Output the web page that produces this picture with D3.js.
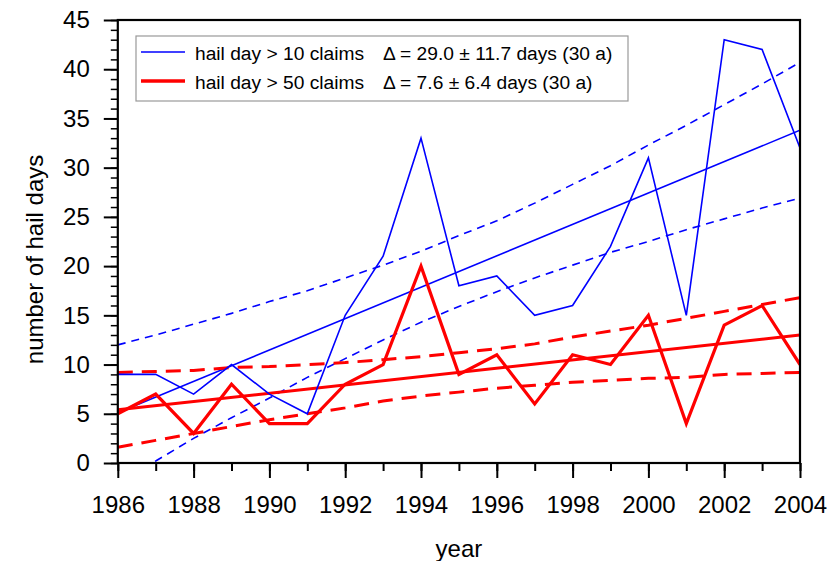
<!DOCTYPE html>
<html>
<head>
<meta charset="utf-8">
<script src="https://cdn.jsdelivr.net/npm/d3@7"></script>
<style>
  html, body { margin: 0; padding: 0; background: #fff; }
  svg { display: block; font-family: "Liberation Sans", Arial, sans-serif; }
</style>
</head>
<body>
<svg id="chart" width="838" height="561"></svg>
<script>
// ---- data ----
const years = [1986,1987,1988,1989,1990,1991,1992,1993,1994,1995,1996,1997,1998,1999,2000,2001,2002,2003,2004];
const claims10 = [9,9,7,10,7,5,15,21,33,18,19,15,16,22,31,15,43,42,32];
const claims50 = [5,7,3,8,4,4,8,10,20,9,11,6,11,10,15,4,14,16,10];
const trendYears = [1986, 2004];
const trend10 = [5.1, 33.8];
const trend50 = [5.4, 13.0];
const upper10 = [12.0,13.0,14.1,15.2,16.4,17.5,18.8,20.1,21.5,23.1,24.6,26.4,28.3,30.2,32.3,34.3,36.4,38.5,40.7];
const lower10 = [-1.8,0.2,2.5,4.6,6.6,8.7,10.6,12.5,14.3,15.9,17.4,18.8,20.1,21.4,22.5,23.7,24.8,25.9,26.9];
const upper50 = [9.2,9.3,9.4,9.7,9.8,10.0,10.2,10.5,10.8,11.2,11.6,12.1,12.8,13.4,14.0,14.7,15.4,16.1,16.8];
const lower50 = [1.6,2.3,3.0,3.7,4.4,5.0,5.6,6.3,6.8,7.2,7.6,7.9,8.2,8.4,8.6,8.7,9.0,9.1,9.2];
const xTickLabels = [1986,1988,1990,1992,1994,1996,1998,2000,2002,2004];
const yTickLabels = [0,5,10,15,20,25,30,35,40,45];
const legendLabels = ["hail day > 10 claims", "hail day > 50 claims"];
const legendDeltas = ["\u0394 = 29.0 \u00b1 11.7 days (30 a)", "\u0394 = 7.6 \u00b1 6.4 days (30 a)"];

// ---- layout ----
const svg = d3.select("#chart");
const L = 117.8, R = 800, T = 20, B = 463;
const x = d3.scaleLinear().domain([1986, 2004]).range([L, R]);
const y = d3.scaleLinear().domain([0, 45]).range([B, T]);
const BLUE = "#0000ff", RED = "#ff0000";

svg.append("defs").append("clipPath").attr("id", "plot")
  .append("rect").attr("x", L).attr("y", T).attr("width", R - L).attr("height", B - T);

const g = svg.append("g").attr("clip-path", "url(#plot)");
const line = d3.line().x(d => x(d[0])).y(d => y(d[1]));

function drawSeries(xs, vs, color, width, dash) {
  g.append("path")
    .datum(xs.map((yr, i) => [yr, vs[i]]))
    .attr("d", line)
    .attr("fill", "none")
    .attr("stroke", color)
    .attr("stroke-width", width)
    .attr("stroke-linejoin", "miter")
    .attr("stroke-dasharray", dash || null);
}

// blue bands & trend
drawSeries(years, upper10, BLUE, 1.6, "8,6");
drawSeries(years, lower10, BLUE, 1.6, "8,6");
drawSeries(trendYears, trend10, BLUE, 1.6);
// red bands & trend
drawSeries(years, upper50, RED, 3, "15,9");
drawSeries(years, lower50, RED, 3, "15,9");
drawSeries(trendYears, trend50, RED, 3);
// data
drawSeries(years, claims10, BLUE, 1.6);
drawSeries(years, claims50, RED, 3.2);

// ---- axes ----
const fontTick = 24;
const tickFont = "Liberation Sans, Arial, sans-serif";
// x axis minor ticks
svg.append("g").attr("transform", `translate(0,${B})`)
  .call(d3.axisBottom(x).tickValues(years).tickSize(8).tickFormat(""))
  .call(a => a.select(".domain").remove())
  .call(a => a.selectAll("line").attr("stroke", "#000").attr("stroke-width", 2));
// x axis major ticks
svg.append("g").attr("transform", `translate(0,${B})`)
  .call(d3.axisBottom(x).tickValues(xTickLabels).tickSize(15).tickPadding(18).tickFormat(d3.format("d")))
  .call(a => a.select(".domain").remove())
  .call(a => a.selectAll("line").attr("stroke", "#000").attr("stroke-width", 2))
  .call(a => a.selectAll("text").attr("font-size", fontTick).attr("fill", "#000").attr("font-family", tickFont));
// y axis minor ticks
svg.append("g").attr("transform", `translate(${L},0)`)
  .call(d3.axisLeft(y).tickValues(d3.range(0, 46, 1)).tickSize(7).tickFormat(""))
  .call(a => a.select(".domain").remove())
  .call(a => a.selectAll("line").attr("stroke", "#000").attr("stroke-width", 1.5));
// y axis major ticks
svg.append("g").attr("transform", `translate(${L},0)`)
  .call(d3.axisLeft(y).tickValues(yTickLabels).tickSize(14).tickPadding(14).tickFormat(d3.format("d")))
  .call(a => a.select(".domain").remove())
  .call(a => a.selectAll("line").attr("stroke", "#000").attr("stroke-width", 2))
  .call(a => a.selectAll("text").attr("font-size", fontTick).attr("fill", "#000").attr("font-family", tickFont));

// frame
svg.append("rect").attr("x", L).attr("y", T).attr("width", R - L).attr("height", B - T)
  .attr("fill", "none").attr("stroke", "#000").attr("stroke-width", 2.2);

// axis titles
svg.append("text").attr("x", (L + R) / 2).attr("y", 557)
  .attr("text-anchor", "middle").attr("font-size", 24).text("year");
svg.append("text").attr("transform", `translate(43,${(T + B) / 2 + 18}) rotate(-90)`)
  .attr("text-anchor", "middle").attr("font-size", 24).text("number of hail days");

// ---- legend ----
const lg = svg.append("g");
lg.append("rect").attr("x", 136).attr("y", 36).attr("width", 492).attr("height", 65)
  .attr("fill", "#fff").attr("stroke", "#999").attr("stroke-width", 1.2);
const rows = [
  { color: BLUE, w: 1.6, yy: 52 },
  { color: RED, w: 3.5, yy: 81 }
];
rows.forEach((r, i) => {
  lg.append("line").attr("x1", 141).attr("x2", 185).attr("y1", r.yy).attr("y2", r.yy)
    .attr("stroke", r.color).attr("stroke-width", r.w);
  lg.append("text").attr("x", 195).attr("y", r.yy + 7.5).attr("font-size", 19.2).text(legendLabels[i]);
  lg.append("text").attr("x", 383).attr("y", r.yy + 7.5).attr("font-size", 19.2).text(legendDeltas[i]);
});
</script>
</body>
</html>
